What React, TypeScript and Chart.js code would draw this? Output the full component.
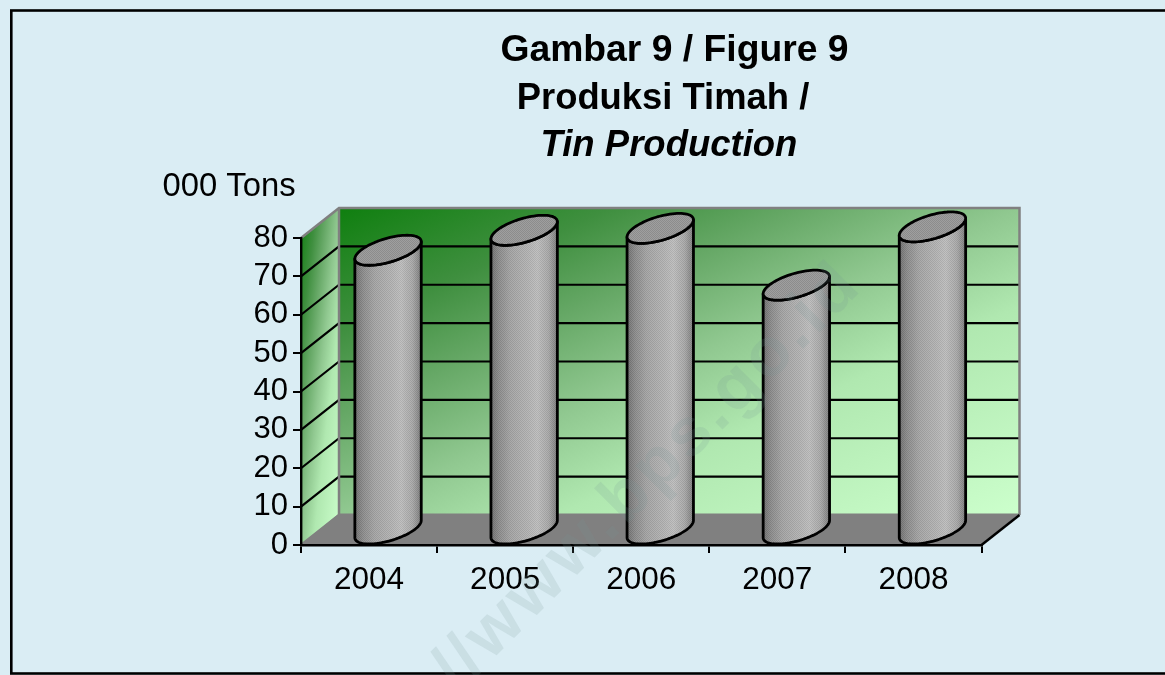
import React, { useEffect, useRef } from "react";
import { Chart, registerables } from "chart.js";

Chart.register(...registerables);

const years = ["2004", "2005", "2006", "2007", "2008"];
const production = [72.9, 78.1, 78.6, 63.8, 79];
const titleLines = ["Gambar 9 / Figure 9", "Produksi Timah /", "Tin Production"];
const unitLabel = "000 Tons";
const watermark = "http://www.bps.go.id";

const FONT = '"Liberation Sans", Arial, sans-serif';
const DX = 38;
const DY = 30;

const wallStops: [number, string][] = [
  [0, "#0f7f0f"],
  [0.2, "#3f8f3f"],
  [0.34, "#66a866"],
  [0.5, "#90c890"],
  [0.66, "#b0e8b0"],
  [1, "#ccffcc"],
];

const ditherPattern = (ctx: CanvasRenderingContext2D, dark: number, light: number) => {
  const c = document.createElement("canvas");
  c.width = 2;
  c.height = 2;
  const p = c.getContext("2d") as CanvasRenderingContext2D;
  p.fillStyle = `rgba(0,0,0,${dark})`;
  p.fillRect(0, 0, 1, 1);
  p.fillRect(1, 1, 1, 1);
  p.fillStyle = `rgba(255,255,255,${light})`;
  p.fillRect(1, 0, 1, 1);
  p.fillRect(0, 1, 1, 1);
  return ctx.createPattern(c, "repeat") as CanvasPattern;
};

const scene = {
  id: "scene",
  beforeDraw(chart: any) {
    const { ctx, width, height, chartArea: a, scales } = chart;
    const y = scales.y;
    ctx.save();
    ctx.fillStyle = "#daedf4";
    ctx.fillRect(0, 0, width, height);
    ctx.strokeStyle = "#000";
    ctx.lineWidth = 2.6;
    ctx.strokeRect(11.3, 10.5, width + 20, 663);

    const corner = (x: number, yy: number, w: number, h: number, path: () => void) => {
      ctx.save();
      path();
      ctx.clip();
      ctx.translate(x, yy);
      ctx.scale(w, h);
      const g = ctx.createLinearGradient(0, 0, 1, 1);
      wallStops.forEach(([o, c]) => g.addColorStop(o, c));
      ctx.fillStyle = g;
      ctx.fillRect(0, 0, 1, 1);
      ctx.restore();
    };
    const t = a.top, b = a.bottom, l = a.left, r = a.right;
    corner(l + DX, t - DY, r - l, b - t, () => {
      ctx.beginPath();
      ctx.rect(l + DX, t - DY, r - l, b - t);
    });
    const side = () => {
      ctx.beginPath();
      ctx.moveTo(l, t);
      ctx.lineTo(l + DX, t - DY);
      ctx.lineTo(l + DX, b - DY);
      ctx.lineTo(l, b);
      ctx.closePath();
    };
    corner(l, t - DY, DX, b - t + DY, side);
    ctx.fillStyle = "#808080";
    ctx.beginPath();
    ctx.moveTo(l, b);
    ctx.lineTo(l + DX, b - DY - 1.5);
    ctx.lineTo(r + DX, b - DY - 1.5);
    ctx.lineTo(r, b);
    ctx.closePath();
    ctx.fill();

    ctx.strokeStyle = "#000";
    ctx.lineWidth = 2.2;
    y.ticks.forEach((tick: any) => {
      if (tick.value === 0 || tick.value === y.max) return;
      const p = y.getPixelForValue(tick.value);
      ctx.beginPath();
      ctx.moveTo(l, p);
      ctx.lineTo(l + DX, p - DY);
      ctx.lineTo(r + DX, p - DY);
      ctx.stroke();
    });

    ctx.strokeStyle = "#808080";
    ctx.lineWidth = 2.5;
    ctx.beginPath();
    ctx.moveTo(l, t);
    ctx.lineTo(l + DX, t - DY);
    ctx.lineTo(r + DX, t - DY);
    ctx.lineTo(r + DX, b - DY);
    ctx.moveTo(l + DX, t - DY);
    ctx.lineTo(l + DX, b - DY);
    ctx.lineTo(l, b);
    ctx.stroke();
    ctx.strokeStyle = "#000";
    ctx.beginPath();
    ctx.moveTo(r, b);
    ctx.lineTo(r + DX, b - DY);
    ctx.stroke();

    ctx.fillStyle = "#000";
    ctx.textBaseline = "alphabetic";
    ctx.textAlign = "center";
    ctx.font = `bold 37.3px ${FONT}`;
    ctx.fillText(titleLines[0], 674.5, 60.7);
    ctx.font = `bold 36.4px ${FONT}`;
    ctx.fillText(titleLines[1], 663, 109);
    ctx.font = `italic bold 36.5px ${FONT}`;
    ctx.fillText(titleLines[2], 669, 155.7);
    ctx.textAlign = "left";
    ctx.font = `32.8px ${FONT}`;
    ctx.fillText(unitLabel, 162.5, 196);
    ctx.restore();
  },
  afterDatasetsDraw(chart: any) {
    const { ctx } = chart;
    const bars = chart.getDatasetMeta(0).data;
    const hy = DY / 2;
    const hx = DX / 2;
    const bodyDither = ditherPattern(ctx, 0.07, 0.07);
    const capDither = ditherPattern(ctx, 0.09, 0.05);
    bars.forEach((bar: any) => {
      const cx = bar.x + hx;
      const topY = bar.y - hy;
      const botY = bar.base - hy;
      const rx = bar.width / 2;
      const half = Math.sqrt(rx * rx + hx * hx);
      const px = (t: number) => cx + rx * Math.cos(t) + hx * Math.sin(t);
      const py = (yc: number, t: number) => yc - hy * Math.sin(t);
      ctx.save();
      ctx.beginPath();
      const startT = Math.atan2(hx, rx) + Math.PI;
      const endT = Math.atan2(hx, rx) + 2 * Math.PI;
      ctx.moveTo(px(startT), py(topY, startT));
      for (let i = 0; i <= 60; i++) {
        const t = startT + ((endT - startT) * i) / 60;
        ctx.lineTo(px(t), py(botY, t));
      }
      for (let i = 60; i >= 0; i--) {
        const t = startT + ((endT - startT) * i) / 60;
        ctx.lineTo(px(t), py(topY, t));
      }
      ctx.closePath();
      const g = ctx.createLinearGradient(cx - half, 0, cx + half, 0);
      g.addColorStop(0, "#6f6f6f");
      g.addColorStop(0.12, "#8c8c8c");
      g.addColorStop(0.3, "#a5a5a5");
      g.addColorStop(0.5, "#b0b0b0");
      g.addColorStop(0.7, "#bdbdbd");
      g.addColorStop(0.87, "#a8a8a8");
      g.addColorStop(1, "#7c7c7c");
      ctx.fillStyle = g;
      ctx.fill();
      ctx.fillStyle = bodyDither;
      ctx.fill();
      ctx.strokeStyle = "#000";
      ctx.lineWidth = 2.8;
      ctx.lineJoin = "round";
      ctx.stroke();
      ctx.beginPath();
      for (let i = 0; i <= 80; i++) {
        const t = (i / 80) * 2 * Math.PI;
        if (i === 0) ctx.moveTo(px(t), py(topY, t));
        else ctx.lineTo(px(t), py(topY, t));
      }
      ctx.closePath();
      ctx.fillStyle = "#9a9a9a";
      ctx.fill();
      ctx.fillStyle = capDither;
      ctx.fill();
      ctx.stroke();
      ctx.restore();
    });

    ctx.save();
    ctx.translate(337, 815);
    ctx.rotate(-Math.PI / 4);
    ctx.font = `bold 68px ${FONT}`;
    (ctx as any).letterSpacing = "4px";
    ctx.fillStyle = "rgba(120,150,150,0.16)";
    ctx.textAlign = "left";
    ctx.textBaseline = "alphabetic";
    ctx.fillText(watermark, 0, 0);
    ctx.restore();
  },
};

export default function App() {
  const ref = useRef<HTMLCanvasElement>(null);
  useEffect(() => {
    document.body.style.margin = "0";
    const chart = new Chart(ref.current as HTMLCanvasElement, {
      type: "bar",
      data: {
        labels: years,
        datasets: [
          {
            label: "Tin Production",
            data: production,
            backgroundColor: "rgba(0,0,0,0)",
            borderWidth: 0,
            categoryPercentage: 0.4,
            barPercentage: 1,
          },
        ],
      },
      plugins: [scene],
      options: {
        animation: false,
        responsive: false,
        layout: { padding: { top: 238, right: 183.5, left: 0, bottom: 0 } },
        plugins: { legend: { display: false }, tooltip: { enabled: false }, title: { display: false } },
        scales: {
          x: {
            afterFit: (s: any) => {
              s.height = 130;
            },
            grid: { offset: true, drawOnChartArea: false, color: "#000", lineWidth: 2, tickLength: 8 },
            border: { color: "#000", width: 2.4 },
            ticks: { color: "#000", padding: 8, maxRotation: 0, font: { family: FONT, size: 31.5 } },
          },
          y: {
            min: 0,
            max: 80,
            afterFit: (s: any) => {
              s.width = 301;
            },
            grid: { drawOnChartArea: false, color: "#000", lineWidth: 2, tickLength: 8 },
            border: { color: "#000", width: 2.4 },
            ticks: { stepSize: 10, autoSkip: false, color: "#000", padding: 5, font: { family: FONT, size: 31 } },
          },
        },
      },
    } as any);
    return () => chart.destroy();
  }, []);
  return <canvas ref={ref} width={1165} height={675} style={{ display: "block" }} />;
}
